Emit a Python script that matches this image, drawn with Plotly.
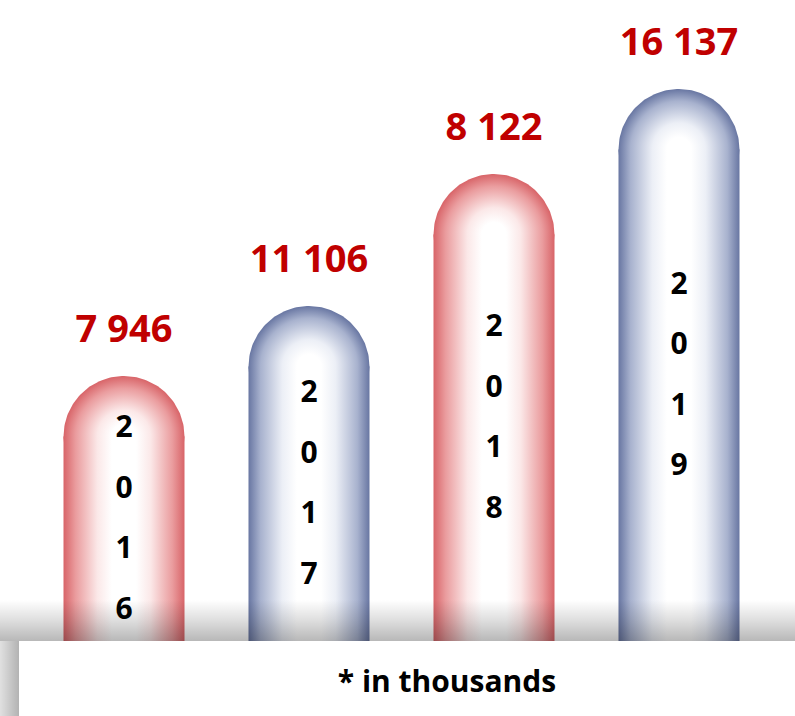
import numpy as np
import plotly.graph_objects as go

# ---------------- data ----------------
years = ["2016", "2017", "2018", "2019"]
values = [7946, 11106, 8122, 16137]            # in thousands
value_labels = ["7 946", "11 106", "8 122", "16 137"]
bar_heights = [265, 335, 467, 552]             # visual capsule heights as drawn in the infographic
bar_themes = ["red", "blue", "red", "blue"]
footnote = "* in thousands"

# ---------------- geometry / style ----------------
W, H = 795, 716
SLOT = 185.0      # px per category slot
X0 = 124.0        # px position of first category centre
R = 60.5          # capsule radius in px
BASE = 641.0      # px of baseline from top

xr = [-X0 / SLOT, (W - X0) / SLOT]
yr = [BASE - H, BASE]


def px_x(p):
    return (p - X0) / SLOT


edge = {"red": "rgb(216,100,104)", "blue": "rgb(104,118,162)"}
mid = {"red": "rgb(234,156,158)", "blue": "rgb(168,178,206)"}
soft = {"red": "rgb(251,232,232)", "blue": "rgb(236,239,246)"}

fig = go.Figure()

for i, (h, th) in enumerate(zip(bar_heights, bar_themes)):
    cy = h - R
    t = np.linspace(0, 2 * np.pi, 181)
    cx_pts = i + (R / SLOT) * np.cos(t)
    cy_pts = cy + R * np.sin(t)
    # round cap (full circle with radial gradient)
    fig.add_trace(go.Scatter(
        x=cx_pts, y=cy_pts, mode="lines", fill="toself",
        line=dict(width=0), hoverinfo="skip",
        fillgradient=dict(type="radial", colorscale=[
            [0, "white"], [0.2, "white"], [0.44, soft[th]],
            [0.8, mid[th]], [1, edge[th]]]),
    ))
    # body (rectangle with horizontal gradient)
    xl, xh = i - R / SLOT, i + R / SLOT
    fig.add_trace(go.Scatter(
        x=[xl, xh, xh, xl, xl], y=[-2, -2, cy, cy, -2], mode="lines",
        fill="toself", line=dict(width=0), hoverinfo="skip",
        fillgradient=dict(type="horizontal", colorscale=[
            [0, edge[th]], [0.1, mid[th]], [0.28, soft[th]], [0.4, "white"],
            [0.6, "white"], [0.72, soft[th]], [0.9, mid[th]], [1, edge[th]]]),
    ))

# floor shadow band
fig.add_trace(go.Scatter(
    x=[xr[0], xr[1], xr[1], xr[0], xr[0]], y=[0, 0, 41, 41, 0], mode="lines",
    fill="toself", line=dict(width=0), hoverinfo="skip",
    fillgradient=dict(type="vertical", colorscale=[
        [0, "rgba(0,0,0,0.28)"], [0.5, "rgba(0,0,0,0.13)"], [1, "rgba(0,0,0,0)"]]),
))
# left shadow strip
fig.add_trace(go.Scatter(
    x=[px_x(0), px_x(19), px_x(19), px_x(0), px_x(0)], y=[yr[0], yr[0], 0, 0, yr[0]],
    mode="lines", fill="toself", line=dict(width=0), hoverinfo="skip",
    fillgradient=dict(type="horizontal", colorscale=[
        [0, "rgba(0,0,0,0.12)"], [1, "rgba(0,0,0,0.3)"]]),
))
# white banner
fig.add_trace(go.Scatter(
    x=[px_x(19), xr[1], xr[1], px_x(19), px_x(19)], y=[yr[0], yr[0], 0, 0, yr[0]],
    mode="lines", fill="toself", fillcolor="white", line=dict(width=0),
    hoverinfo="skip",
))

# value labels
fig.add_trace(go.Scatter(
    x=list(range(len(years))), y=[h + 44 for h in bar_heights],
    mode="text", text=value_labels, textposition="middle center",
    textfont=dict(family="Open Sans", size=38, color="#c00000", weight="bold"),
    hoverinfo="skip",
))

# stacked year digits
dx, dy, dt = [], [], []
for i, (yr_s, h) in enumerate(zip(years, bar_heights)):
    c = h / 2 - 12
    for k, ch in enumerate(yr_s):
        dx.append(i)
        dy.append(c - (k - 1.5) * 60.5)
        dt.append(ch)
fig.add_trace(go.Scatter(
    x=dx, y=dy, mode="text", text=dt, textposition="middle center",
    textfont=dict(family="Open Sans", size=30, color="black", weight="bold"),
    hoverinfo="skip",
))

# footnote
fig.add_trace(go.Scatter(
    x=[px_x(447)], y=[-43], mode="text", text=[footnote],
    textposition="middle center",
    textfont=dict(family="Open Sans", size=30, color="black", weight="bold"),
    hoverinfo="skip",
))

fig.update_layout(
    width=W, height=H, margin=dict(l=0, r=0, t=0, b=0),
    paper_bgcolor="white", plot_bgcolor="white", showlegend=False,
    xaxis=dict(range=xr, visible=False, fixedrange=True),
    yaxis=dict(range=yr, visible=False, fixedrange=True),
)

fig.write_html("out.html", config={"displayModeBar": False},
               post_script="document.body.style.margin='0';document.body.style.overflow='hidden';")
